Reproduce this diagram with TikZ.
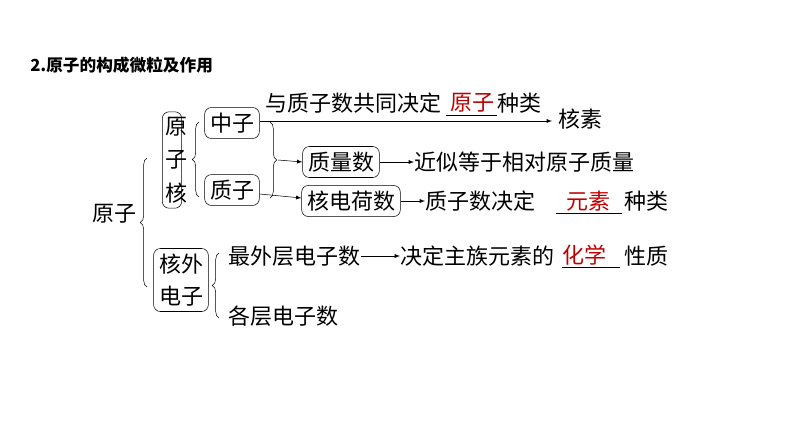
\documentclass[tikz,border=0pt]{standalone}
\usepackage{fontspec}
\setmainfont{Noto Sans CJK SC}
\usetikzlibrary{decorations.pathreplacing}
\definecolor{ansred}{RGB}{192,0,0}
\tikzset{
	txt/.style={inner sep=0pt, anchor=west, font=\fontsize{16.5}{22}\selectfont},
	box/.style={draw, rounded corners=5pt, inner xsep=4pt, inner ysep=4pt, font=\fontsize{16.5}{22}\selectfont},
	brace/.style={decorate, decoration={brace, amplitude=5pt}},
	arr/.style={-latex},
	ans/.style={text=ansred, font=\fontsize{16.5}{22}\selectfont, inner sep=1pt}
}
\begin{document}
\begin{tikzpicture}[x=0.75pt,y=0.75pt,yscale=-1,xscale=1]
	\useasboundingbox (0,0) rectangle (794,447);

	% title
	\node[txt, font=\fontsize{12.5}{14}\selectfont\bfseries] (title) at (30,65) {2.原子的构成微粒及作用};

	% boxes
	\node[txt] (atom) at (92,214) {原子};
	\node[box, align=center, text width=1.05em, inner xsep=2pt] (nucleus) at (172,160) {原\\[3pt]子\\[3pt]核};
	\node[box] (neutron) at (232,123) {中子};
	\node[box] (proton) at (232,190) {质子};
	\node[box] (mass) at (341,162) {质量数};
	\node[box] (charge) at (351,201) {核电荷数};
	\node[box, align=center] (electron) at (181,280) {核外\\[2pt]电子};

	% braces
	\draw[brace] (147,287) -- (147,158);
	\draw[brace] (199,197) -- (199,122);
	\draw[brace] (270,122) -- (270,198);
	\draw[brace] (219,318) -- (219,253);
	\coordinate (bmid) at (278,160);

	% top line
	\node[txt] (topline) at (265,103) {与质子数共同决定};
	\node[ans] (ans1) at (472,103) {原子};
	\node[txt] (topkind) at (497,103) {种类};
	\draw (446,115) -- (497,115);
	\node[txt] (isotope) at (558,119) {核素};
	\draw[arr] (neutron.east) ++(0,-2) -- (552,121);

	\draw[arr] (bmid) -- (mass.west);
	\draw[arr] (proton.east) ++(0,4) -- (charge.west |- 0,198);

	\node[txt] (approx) at (414,162) {近似等于相对原子质量};
	\draw[arr] (mass.east) -- (approx.west);
	\node[txt] (decide) at (425,201) {质子数决定};
	\node[ans] (ans2) at (588,201) {元素};
	\node[txt] (kind) at (624,201) {种类};
	\draw (556,213) -- (622,213);
	\draw[arr] (charge.east) -- (decide.west);

	\node[txt] (outer) at (228,256) {最外层电子数};
	\node[txt] (chem) at (400,256) {决定主族元素的};
	\node[ans] (ans3) at (584,255) {化学};
	\node[txt] (nature) at (624,256) {性质};
	\draw (562,267) -- (620,267);
	\draw[arr] (outer.east) -- (chem.west);
	\node[txt] (layers) at (228,316) {各层电子数};
\end{tikzpicture}
\end{document}
